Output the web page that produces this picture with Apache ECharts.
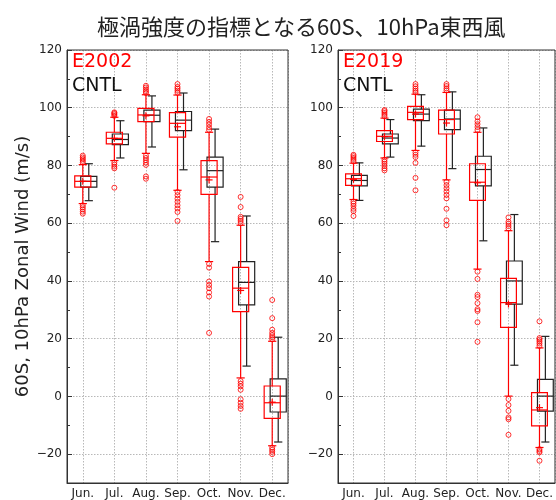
<!DOCTYPE html>
<html>
<head>
<meta charset="utf-8">
<script src="https://cdn.jsdelivr.net/npm/echarts@6/dist/echarts.min.js"></script>
<style>html,body{margin:0;padding:0;background:#fff;}#c{width:556px;height:500px;}</style>
</head>
<body>
<div id="c"></div>
<script>
const months = ['Jun.', 'Jul.', 'Aug.', 'Sep.', 'Oct.', 'Nov.', 'Dec.'];
const yTicks = [-20, 0, 20, 40, 60, 80, 100, 120];

// [whisker low, q1, median, q3, whisker high]
const e2002Box = [
  [66.8, 72.5, 74.5, 76.4, 80.3],
  [81.7, 87.5, 89.4, 91.5, 96.7],
  [84.2, 95.2, 97.5, 99.8, 104.5],
  [71.4, 89.8, 94.6, 98.3, 104.4],
  [46.7, 70.0, 76.0, 81.7, 91.5],
  [6.4, 29.4, 37.5, 44.7, 59.3],
  [-17.1, -7.6, -2.2, 3.6, 19.1]
];
const e2002Mean = [74.5, 89.4, 97.2, 93.4, 75.0, 36.7, -2.0];
const e2002Outliers = [
  [81.0, 81.6, 82.2, 82.8, 83.4, 66.2, 65.5, 64.8, 64.0, 63.3],
  [97.2, 97.7, 98.1, 98.4, 81.0, 80.3, 79.6, 79.0, 72.3],
  [105.1, 105.7, 106.3, 107.0, 107.6, 83.4, 82.6, 81.8, 81.0, 80.2, 76.2, 75.4],
  [105.2, 105.9, 106.6, 107.2, 108.2, 70.8, 69.7, 68.5, 67.4, 66.2, 65.1, 63.9, 60.8],
  [92.3, 93.2, 94.2, 95.1, 96.1, 45.9, 44.6, 39.8, 38.6, 37.5, 36.0, 34.6, 22.0],
  [60.0, 60.8, 61.5, 62.2, 65.6, 69.1, 5.3, 4.4, 3.5, 2.3, -1.0, -2.2, -3.3, -4.3],
  [19.8, 20.5, 21.2, 22.0, 23.1, 27.1, 33.4, -17.8, -18.5, -19.2, -20.0]
];
const cntlBoxLeft = [
  [67.8, 72.5, 74.5, 76.2, 80.6],
  [82.6, 87.2, 89.0, 90.9, 95.5],
  [86.4, 95.2, 97.4, 99.2, 104.1],
  [78.5, 92.1, 95.7, 98.7, 105.1],
  [53.6, 72.5, 78.2, 82.9, 92.6],
  [10.5, 31.7, 39.5, 46.7, 62.5],
  [-15.8, -5.4, 0.1, 6.1, 20.5]
];

const e2019Box = [
  [68.2, 73.1, 75.4, 77.1, 80.8],
  [82.6, 88.3, 90.1, 92.1, 96.4],
  [85.2, 95.9, 98.4, 100.5, 104.7],
  [75.0, 90.9, 95.9, 99.2, 105.3],
  [44.1, 67.9, 74.2, 80.6, 91.5],
  [0.1, 23.9, 32.5, 40.9, 57.4],
  [-17.7, -10.2, -4.7, 1.3, 16.8]
];
const e2019Mean = [75.2, 90.0, 97.8, 94.7, 74.0, 32.0, -3.9];
const e2019Outliers = [
  [81.4, 82.0, 82.6, 83.2, 83.7, 67.5, 66.8, 66.0, 65.0, 64.2, 62.5],
  [97.0, 97.6, 98.2, 98.8, 99.2, 82.0, 81.3, 80.6, 79.8, 79.0, 78.3],
  [105.3, 105.9, 106.6, 107.4, 108.2, 84.5, 83.7, 82.9, 80.9, 75.7, 71.4],
  [106.0, 106.7, 107.5, 108.2, 74.3, 73.2, 72.1, 71.0, 69.8, 68.6, 65.0, 61.0, 59.3],
  [92.3, 93.3, 94.3, 95.3, 96.7, 43.2, 40.7, 35.2, 34.4, 32.3, 30.2, 29.6, 25.7, 18.9],
  [58.2, 59.0, 59.8, 60.5, 62.0, -0.9, -3.0, -5.0, -7.3, -7.9, -13.3],
  [17.5, 18.3, 19.0, 19.6, 20.2, 26.0, -18.3, -18.9, -19.4, -22.3]
];
const cntlBoxRight = [
  [67.9, 72.9, 74.8, 76.6, 80.9],
  [82.9, 87.5, 89.5, 90.9, 95.9],
  [86.7, 95.5, 97.8, 99.5, 104.5],
  [78.9, 92.4, 96.1, 99.2, 105.5],
  [53.9, 72.9, 78.6, 83.2, 93.0],
  [10.8, 32.0, 40.0, 46.9, 63.0],
  [-15.8, -5.1, 0.1, 5.9, 20.8]
];

const RED = '#ff0000';
const BLACK = '#222222';
const FONT = 'DejaVu Sans';

function boxData(box, mean) {
  return box.map((b, i) => [i, b[0], b[1], b[2], b[3], b[4], mean ? mean[i] : b[2]]);
}
function outlierData(list) {
  const out = [];
  list.forEach((vals, i) => vals.forEach(v => out.push([i, v])));
  return out;
}
function makeRender(color, offsetFrac, showMean) {
  return function (params, api) {
    const x = api.value(0);
    const bw = api.size([1, 0])[0];
    const cx = api.coord([x, 0])[0] + bw * offsetFrac;
    const py = i => api.coord([x, api.value(i)])[1];
    const yl = py(1), yq1 = py(2), ym = py(3), yq3 = py(4), yh = py(5);
    const hw = bw * 0.255, cw = bw * 0.13;
    const st = { stroke: color, lineWidth: 1.2, fill: null };
    const line = (x1, y1, x2, y2) => ({ type: 'line', shape: { x1, y1, x2, y2 }, style: st });
    const children = [
      { type: 'rect', shape: { x: cx - hw, y: yq3, width: 2 * hw, height: yq1 - yq3 }, style: st },
      line(cx - hw, ym, cx + hw, ym),
      line(cx, yq1, cx, yl),
      line(cx, yq3, cx, yh),
      line(cx - cw, yl, cx + cw, yl),
      line(cx - cw, yh, cx + cw, yh)
    ];
    if (showMean) {
      const ymean = py(6);
      children.push(line(cx - 3.5, ymean, cx + 3.5, ymean));
      children.push(line(cx, ymean - 3.5, cx, ymean + 3.5));
    }
    return { type: 'group', children };
  };
}

const grids = [
  { left: 67, top: 50, width: 221, height: 434 },
  { left: 338, top: 50, width: 221, height: 434 }
];

function xAxisFor(gi) {
  return {
    type: 'value', gridIndex: gi, min: -0.5, max: 6.5, splitNumber: 7,
    axisLine: { show: true, onZero: false, lineStyle: { color: '#333', width: 1 } },
    axisTick: { show: false },
    axisLabel: {
      color: '#222', fontSize: 12, fontFamily: FONT, margin: 5,
      showMinLabel: false, showMaxLabel: false,
      formatter: v => (Number.isInteger(v) && months[v] ? months[v] : '')
    },
    splitLine: { show: true, lineStyle: { color: '#b8b8b8', type: [1.5, 1.5], width: 1 } }
  };
}
function yAxisFor(gi) {
  const ax = {
    type: 'value', gridIndex: gi, min: -30, max: 120, splitNumber: 7,
    axisLine: { show: true, onZero: false, lineStyle: { color: '#333', width: 1 } },
    axisTick: { show: true, inside: true, length: 5, lineStyle: { color: '#333' } },
    minorTick: { show: true, splitNumber: 2, length: 3, lineStyle: { color: '#333' } },
    axisLabel: {
      color: '#222', fontSize: 12, fontFamily: FONT, margin: 5, showMinLabel: false,
      formatter: v => (yTicks.indexOf(v) < 0 ? '' : (v < 0 ? '\u2212' + Math.abs(v) : String(v)))
    },
    splitLine: { show: true, lineStyle: { color: '#b8b8b8', type: [1.5, 1.5], width: 1 } }
  };
  if (gi === 0) {
    ax.name = '60S, 10hPa Zonal Wind (m/s)';
    ax.nameLocation = 'middle';
    ax.nameGap = 30;
    ax.nameTextStyle = { fontSize: 18, fontFamily: FONT, color: '#222' };
  }
  return ax;
}

function frame(gi) {
  return {
    type: 'custom', xAxisIndex: gi, yAxisIndex: gi, silent: true, clip: false, z: 1,
    data: [[0]],
    renderItem: (params, api) => {
      const r = params.coordSys;
      return { type: 'rect', shape: { x: r.x, y: r.y, width: r.width, height: r.height },
        style: { stroke: '#333', lineWidth: 1, fill: null } };
    }
  };
}

const option = {
  animation: false,
  backgroundColor: '#fff',
  title: [
    { text: '極渦強度の指標となる60S、10hPa東西風', left: 97, top: 16, padding: 0,
      textStyle: { fontSize: 22, fontWeight: 'normal', color: '#222', fontFamily: 'Noto Sans CJK JP' } },
    { text: 'E2002', left: 72, top: 53, padding: 0,
      textStyle: { fontSize: 19, fontWeight: 'normal', color: RED, fontFamily: FONT } },
    { text: 'CNTL', left: 72, top: 77, padding: 0,
      textStyle: { fontSize: 19, fontWeight: 'normal', color: '#111', fontFamily: FONT } },
    { text: 'E2019', left: 343, top: 53, padding: 0,
      textStyle: { fontSize: 19, fontWeight: 'normal', color: RED, fontFamily: FONT } },
    { text: 'CNTL', left: 343, top: 77, padding: 0,
      textStyle: { fontSize: 19, fontWeight: 'normal', color: '#111', fontFamily: FONT } }
  ],
  grid: grids,
  xAxis: [xAxisFor(0), xAxisFor(1)],
  yAxis: [yAxisFor(0), yAxisFor(1)],
  series: [
    frame(0), frame(1),
    { type: 'custom', xAxisIndex: 0, yAxisIndex: 0, clip: false, z: 3,
      renderItem: makeRender(BLACK, 0.19, false), data: boxData(cntlBoxLeft, null) },
    { type: 'custom', xAxisIndex: 0, yAxisIndex: 0, clip: false, z: 4,
      renderItem: makeRender(RED, 0, true), data: boxData(e2002Box, e2002Mean) },
    { type: 'scatter', xAxisIndex: 0, yAxisIndex: 0, z: 5, symbol: 'circle', symbolSize: 5,
      itemStyle: { color: 'rgba(0,0,0,0)', borderColor: RED, borderWidth: 1 },
      data: outlierData(e2002Outliers) },
    { type: 'custom', xAxisIndex: 1, yAxisIndex: 1, clip: false, z: 3,
      renderItem: makeRender(BLACK, 0.19, false), data: boxData(cntlBoxRight, null) },
    { type: 'custom', xAxisIndex: 1, yAxisIndex: 1, clip: false, z: 4,
      renderItem: makeRender(RED, 0, true), data: boxData(e2019Box, e2019Mean) },
    { type: 'scatter', xAxisIndex: 1, yAxisIndex: 1, z: 5, symbol: 'circle', symbolSize: 5,
      itemStyle: { color: 'rgba(0,0,0,0)', borderColor: RED, borderWidth: 1 },
      data: outlierData(e2019Outliers) }
  ]
};

const chart = echarts.init(document.getElementById('c'), null, { renderer: 'canvas' });
chart.setOption(option);
</script>
</body>
</html>
